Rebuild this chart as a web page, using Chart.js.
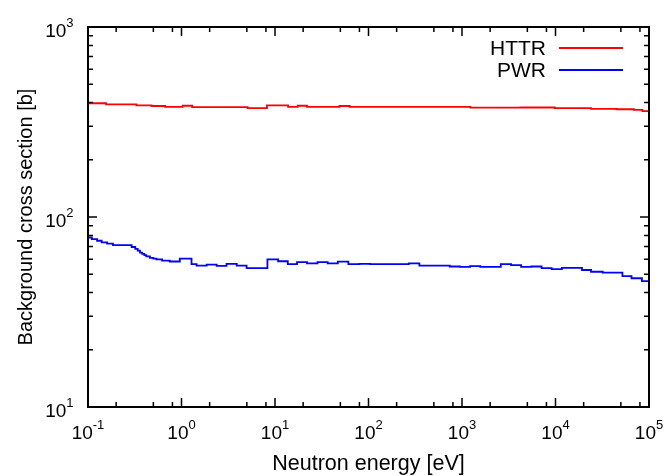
<!DOCTYPE html>
<html>
<head>
<meta charset="utf-8">
<script src="https://cdn.jsdelivr.net/npm/chart.js@4.4.1/dist/chart.umd.min.js"></script>
<style>
  html, body { margin: 0; padding: 0; background: #fff; }
  #wrap { width: 668px; height: 476px; }
</style>
</head>
<body>
<div id="wrap"><canvas id="xs" width="668" height="476"></canvas></div>
<script>
// group lower boundaries [eV] and background cross sections [b]
const httrEnergy = [0.1, 0.156, 0.33, 0.48, 0.67, 1.03, 1.3, 5.1, 8.2, 13.8, 17.5, 22, 49, 63, 280, 1230, 4200, 9800, 24000, 45000, 69000, 85000];
const httrSigma  = [397, 392, 387, 384, 380, 385, 379, 374, 387, 380, 385, 380, 384, 380, 380, 376, 377, 374, 371, 369, 366, 361];

const pwrEnergy = [0.1, 0.11, 0.125, 0.14, 0.16, 0.185, 0.293, 0.32, 0.34, 0.36, 0.38, 0.40, 0.42, 0.46, 0.50, 0.54, 0.62, 0.75, 0.96, 1.28, 1.45, 1.86, 2.38, 3.03, 3.9, 4.97, 8.3, 10.8, 13.7, 17.2, 22, 28.5, 36.6, 47, 60.9, 80, 104, 270, 350, 740, 950, 1220, 1570, 2600, 3350, 4290, 5500, 7100, 9100, 11700, 19200, 24000, 32000, 52000, 65000, 84000];
const pwrSigma  = [78, 76.5, 75, 73.5, 72.5, 71.2, 69.5, 68, 66.5, 65, 64, 63, 62, 61, 60.4, 59.8, 59, 58.3, 60.4, 56.5, 55.5, 56.2, 55.3, 56.6, 55.5, 53.8, 59.8, 58.5, 56.5, 57.9, 57, 57.9, 57, 58.2, 56.5, 56.6, 56.5, 57, 55.5, 54.9, 54.7, 55.2, 54.7, 56.5, 55.8, 54.7, 54.9, 53.8, 53.2, 54, 52.6, 51.5, 50.9, 48.9, 47.6, 46.0];

const xDecades = [-1, 0, 1, 2, 3, 4, 5];
const yDecades = [1, 2, 3];
const xMinor = [2, 5, 8];
const yMinor = [2, 3, 4, 5, 6, 7, 8, 9];

const seriesNames = ['HTTR', 'PWR'];
const seriesColors = ['#ff0000', '#0000ff'];
const xTitle = 'Neutron energy [eV]';
const yTitle = 'Background cross section [b]';

function toPoints(es, vs) {
  const pts = es.map((e, i) => ({ x: e, y: vs[i] }));
  pts.push({ x: 1e5, y: vs[vs.length - 1] });
  return pts;
}

const FONT = '"Liberation Sans", Arial, Helvetica, sans-serif';

// frame, inward ticks on all sides, power-of-ten labels, legend, titles
const gnuplotFrame = {
  id: 'gnuplotFrame',
  afterDatasetsDraw(chart) {
    const { ctx, chartArea: a, scales } = chart;
    const xs = scales.x, ys = scales.y;
    ctx.save();
    ctx.strokeStyle = '#000';
    ctx.lineWidth = 1.5;
    ctx.beginPath();
    xDecades.forEach(d => {
      const px = xs.getPixelForValue(Math.pow(10, d));
      ctx.moveTo(px, a.bottom); ctx.lineTo(px, a.bottom - 9);
      ctx.moveTo(px, a.top); ctx.lineTo(px, a.top + 9);
      if (d < 5) xMinor.forEach(m => {
        const q = xs.getPixelForValue(m * Math.pow(10, d));
        ctx.moveTo(q, a.bottom); ctx.lineTo(q, a.bottom - 5);
        ctx.moveTo(q, a.top); ctx.lineTo(q, a.top + 5);
      });
    });
    yDecades.forEach(d => {
      const py = ys.getPixelForValue(Math.pow(10, d));
      ctx.moveTo(a.left, py); ctx.lineTo(a.left + 9, py);
      ctx.moveTo(a.right, py); ctx.lineTo(a.right - 9, py);
      if (d < 3) yMinor.forEach(m => {
        const q = ys.getPixelForValue(m * Math.pow(10, d));
        ctx.moveTo(a.left, q); ctx.lineTo(a.left + 5, q);
        ctx.moveTo(a.right, q); ctx.lineTo(a.right - 5, q);
      });
    });
    ctx.stroke();

    ctx.lineWidth = 2;
    ctx.strokeRect(a.left, a.top, a.right - a.left, a.bottom - a.top);

    ctx.fillStyle = '#000';
    ctx.textBaseline = 'alphabetic';
    ctx.textAlign = 'left';
    const big = '19px ' + FONT, small = '13px ' + FONT;
    function pow10(x, exp, align, baseY) {
      ctx.font = big; const w1 = ctx.measureText('10').width;
      ctx.font = small; const w2 = ctx.measureText(exp).width;
      const x0 = align === 'right' ? x - w1 - w2 : x - (w1 + w2) / 2;
      ctx.font = big; ctx.fillText('10', x0, baseY);
      ctx.font = small; ctx.fillText(exp, x0 + w1, baseY - 10);
    }
    xDecades.forEach(d => {
      pow10(xs.getPixelForValue(Math.pow(10, d)), String(d), 'center', 438.5);
    });
    yDecades.forEach(d => {
      pow10(73.5, String(d), 'right', ys.getPixelForValue(Math.pow(10, d)) + 10);
    });

    ctx.textAlign = 'center';
    ctx.font = '21.5px ' + FONT;
    ctx.fillText(xTitle, (a.left + a.right) / 2, 470);
    ctx.font = '20px ' + FONT;
    ctx.save();
    ctx.translate(32, (a.top + a.bottom) / 2);
    ctx.rotate(-Math.PI / 2);
    ctx.fillText(yTitle, 0, 0);
    ctx.restore();

    // legend
    ctx.font = '21px ' + FONT;
    ctx.textAlign = 'right';
    ctx.textBaseline = 'middle';
    seriesNames.forEach((n, i) => {
      const y = 48 + i * 22;
      ctx.fillText(n, 546, y + 1);
      ctx.strokeStyle = seriesColors[i];
      ctx.lineWidth = 1.8;
      ctx.beginPath(); ctx.moveTo(559, y); ctx.lineTo(623, y); ctx.stroke();
    });
    ctx.restore();
  }
};

new Chart(document.getElementById('xs').getContext('2d'), {
  type: 'line',
  data: {
    datasets: [
      { label: seriesNames[0], data: toPoints(httrEnergy, httrSigma), borderColor: seriesColors[0] },
      { label: seriesNames[1], data: toPoints(pwrEnergy, pwrSigma), borderColor: seriesColors[1] }
    ].map(ds => Object.assign(ds, { stepped: 'before', borderWidth: 1.8, pointRadius: 0, fill: false }))
  },
  options: {
    responsive: false,
    animation: false,
    events: [],
    layout: { padding: { left: 88, right: 19, top: 27, bottom: 69 } },
    plugins: { legend: { display: false }, tooltip: { enabled: false } },
    scales: {
      x: { type: 'logarithmic', min: 0.1, max: 1e5, display: false },
      y: { type: 'logarithmic', min: 10, max: 1000, display: false }
    }
  },
  plugins: [gnuplotFrame]
});
</script>
</body>
</html>
